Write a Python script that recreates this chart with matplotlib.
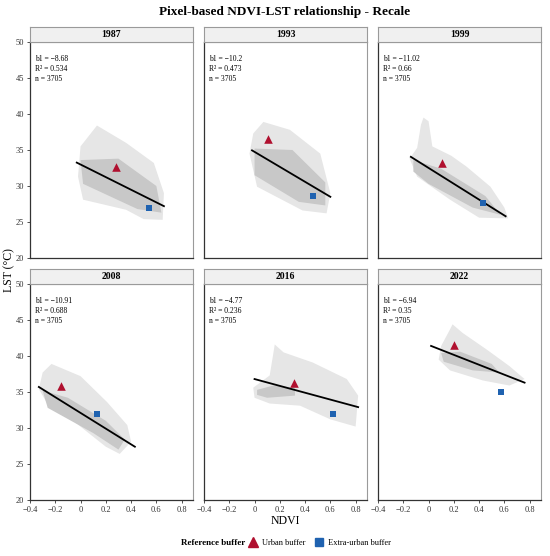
import matplotlib
matplotlib.use("Agg")
import matplotlib.pyplot as plt
from matplotlib.lines import Line2D

plt.rcParams["font.family"] = ["Liberation Serif", "DejaVu Serif"]

years = [1987, 1993, 1999, 2008, 2016, 2022]
b1 = ["−8.68", "−10.2", "−11.02", "−10.91", "−4.77", "−6.94"]
r2 = ["0.534", "0.473", "0.66", "0.688", "0.236", "0.35"]
n_pix = [3705, 3705, 3705, 3705, 3705, 3705]

# reference buffers (NDVI, LST)
urban_ndvi = [0.28, 0.11, 0.11, -0.155, 0.31, 0.20]
urban_lst = [32.6, 36.5, 33.15, 35.9, 36.2, 41.5]
extra_ndvi = [0.54, 0.46, 0.43, 0.13, 0.62, 0.57]
extra_lst = [27.0, 28.6, 27.6, 31.9, 32.0, 35.05]

# fitted line end points
line_x0 = [-0.03, -0.02, -0.14, -0.33, 0.0, 0.02]
line_y0 = [33.25, 34.95, 34.05, 35.7, 36.8, 41.4]
line_x1 = [0.66, 0.60, 0.61, 0.43, 0.82, 0.76]
line_y1 = [27.2, 28.5, 25.8, 27.4, 32.9, 36.3]

# outline of the pixel clouds (NDVI, LST)
cloud_outer = {
    1987: [(0.13, 38.4), (0.36, 36.0), (0.58, 33.2), (0.66, 29.0), (0.65, 25.3),
           (0.50, 25.4), (0.36, 26.7), (0.02, 28.1), (-0.02, 31.3), (0.0, 35.5)],
    1993: [(0.07, 38.9), (0.28, 37.8), (0.52, 34.5), (0.60, 29.0), (0.57, 26.2),
           (0.38, 26.6), (0.02, 29.9), (-0.04, 34.5), (-0.01, 37.3)],
    1999: [(-0.04, 39.5), (0.0, 39.0), (0.03, 35.5), (0.18, 34.2), (0.30, 32.7),
           (0.49, 29.9), (0.60, 27.0), (0.63, 25.5), (0.40, 25.6), (0.17, 28.1),
           (-0.09, 31.3), (-0.15, 33.8), (-0.09, 35.3), (-0.06, 38.5)],
    2008: [(-0.23, 38.9), (0.0, 37.2), (0.21, 33.6), (0.37, 30.4), (0.40, 28.1),
           (0.31, 26.4), (0.20, 27.4), (-0.08, 31.3), (-0.27, 33.6), (-0.33, 35.4),
           (-0.30, 37.7)],
    2016: [(0.16, 41.6), (0.23, 40.5), (0.46, 39.1), (0.73, 36.8), (0.82, 34.5),
           (0.80, 30.2), (0.60, 31.2), (0.36, 33.1), (0.12, 33.4), (0.0, 34.2),
           (-0.01, 35.6), (0.12, 37.3), (0.15, 40.5)],
    2022: [(0.19, 44.4), (0.27, 43.2), (0.46, 40.9), (0.64, 38.6), (0.76, 36.8),
           (0.64, 35.9), (0.43, 36.6), (0.17, 38.0), (0.08, 39.5), (0.10, 41.4),
           (0.17, 43.7)],
}
cloud_core = {
    1987: [(0.0, 33.6), (0.30, 33.8), (0.60, 30.0), (0.64, 26.3), (0.45, 26.8), (0.02, 30.3)],
    1993: [(0.0, 35.2), (0.30, 35.0), (0.56, 30.5), (0.56, 27.3), (0.35, 27.8), (0.0, 31.5)],
    1999: [(-0.12, 33.6), (0.10, 32.4), (0.45, 28.6), (0.57, 26.0), (0.35, 27.0), (0.0, 30.3),
           (-0.12, 32.0)],
    2008: [(-0.30, 35.2), (-0.10, 34.2), (0.20, 31.0), (0.35, 28.4), (0.30, 27.0), (0.10, 29.3),
           (-0.26, 32.8)],
    2016: [(0.02, 35.3), (0.15, 35.9), (0.32, 35.6), (0.32, 34.5), (0.10, 34.2), (0.02, 34.6)],
    2022: [(0.10, 40.4), (0.25, 40.6), (0.50, 38.9), (0.56, 37.7), (0.35, 38.0), (0.12, 39.2)],
}

red = "#b0102f"
blue = "#1f62b0"

fig = plt.figure(figsize=(5.5, 5.56), dpi=100)
W, H = 550, 556
lefts = [30, 204, 378]
tops = [42, 284]
pw = 163
ph = 216

for i, year in enumerate(years):
    row, col = divmod(i, 3)
    x0 = lefts[col] / W
    y0 = 1 - (tops[row] + ph) / H
    ax = fig.add_axes([x0, y0, pw / W, ph / H])

    ox, oy = zip(*cloud_outer[year])
    ax.fill(ox, oy, color="#e6e6e6", lw=0)
    cx, cy = zip(*cloud_core[year])
    ax.fill(cx, cy, color="#c8c8c8", lw=0)

    ax.plot([line_x0[i], line_x1[i]], [line_y0[i], line_y1[i]], color="black", lw=1.3, zorder=3)
    ax.scatter(urban_ndvi[i], urban_lst[i], marker="^", s=38, color=red, zorder=4, lw=0)
    ax.scatter(extra_ndvi[i], extra_lst[i], marker="s", s=25, color=blue, zorder=4, lw=0)

    ax.text(0.03, 0.94, f"b1 = {b1[i]}\nR² = {r2[i]}\nn = {n_pix[i]}",
            transform=ax.transAxes, fontsize=5.5, va="top", ha="left", linespacing=1.3)

    ax.set_xlim(-0.4, 0.89)
    ax.set_ylim(20, 50)
    ax.set_xticks([-0.4, -0.2, 0, 0.2, 0.4, 0.6, 0.8])
    ax.set_xticklabels(["−0.4", "−0.2", "0", "0.2", "0.4", "0.6", "0.8"])
    ax.set_yticks([20, 25, 30, 35, 40, 45, 50])
    ax.tick_params(labelsize=6, length=2.5, width=0.6, color="#333333", pad=1.5,
                   labelcolor="#333333")
    if row == 0:
        ax.tick_params(axis="x", labelbottom=False, length=0)
    if col != 0:
        ax.tick_params(axis="y", labelleft=False, length=0)
    for side in ["top", "right"]:
        ax.spines[side].set_color("#9a9a9a")
        ax.spines[side].set_linewidth(0.8)
    for side in ["left", "bottom"]:
        ax.spines[side].set_color("#333333")
        ax.spines[side].set_linewidth(0.9)

    # facet strip
    sax = fig.add_axes([x0, 1 - tops[row] / H, pw / W, 15 / H])
    sax.set_facecolor("#f0f0f0")
    sax.set_xticks([])
    sax.set_yticks([])
    for sp in sax.spines.values():
        sp.set_color("#9a9a9a")
        sp.set_linewidth(0.8)
    sax.text(0.5, 0.5, str(year), ha="center", va="center", fontsize=7,
             fontweight="bold", transform=sax.transAxes)

fig.text(285 / W, 1 - 12 / H, "Pixel-based NDVI-LST relationship - Recale", ha="center",
         va="center", fontsize=9.5, fontweight="bold")
fig.text(9 / W, 1 - 270 / H, "LST (°C)", rotation=90, ha="center", va="center", fontsize=8.5)
fig.text(285 / W, 1 - 521 / H, "NDVI", ha="center", va="center", fontsize=8.5)

fig.text(245 / W, 1 - 543 / H, "Reference buffer", ha="right", va="center",
         fontsize=6.5, fontweight="bold")
handles = [
    Line2D([], [], marker="^", color=red, ls="none", markersize=7, label="Urban buffer"),
    Line2D([], [], marker="s", color=blue, ls="none", markersize=6, label="Extra-urban buffer"),
]
fig.legend(handles=handles, loc="center left", bbox_to_anchor=(247 / W, 1 - 543 / H),
           ncol=2, frameon=False, fontsize=6, handletextpad=0.3, columnspacing=0.9,
           handlelength=1.5, borderaxespad=0, borderpad=0)

fig.savefig("out.png", dpi=100)
